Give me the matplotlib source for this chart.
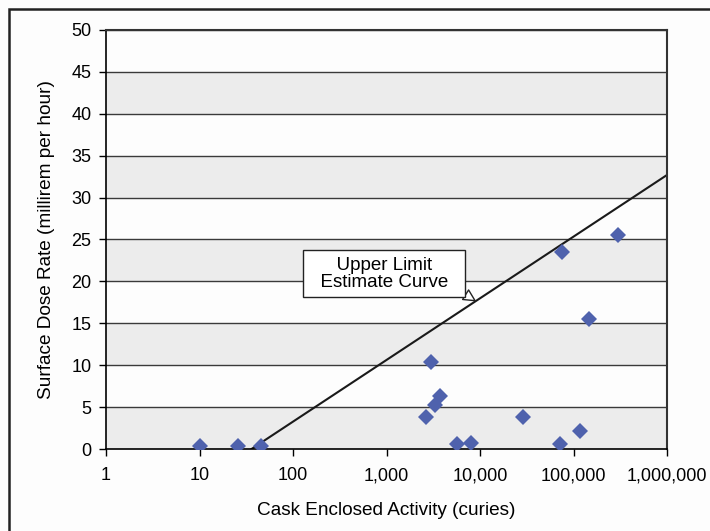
import matplotlib
matplotlib.use("Agg")
import matplotlib.pyplot as plt
from matplotlib.patches import Rectangle

plt.rcParams['font.family'] = ['Liberation Sans', 'DejaVu Sans']

# cask measurements
activity = [10, 26, 45, 2650, 3000, 3300, 3730, 5640, 8000, 29000,
            71800, 74600, 117000, 145000, 301000]
dose = [0.3, 0.3, 0.3, 3.85, 10.4, 5.25, 6.3, 0.55, 0.75, 3.85,
        0.55, 23.5, 2.2, 15.5, 25.5]

# upper limit estimate curve (straight line on log axis)
curve_x = [36, 1e6]
curve_y = [0, 32.7]

x_ticks = [1, 10, 100, 1000, 10000, 100000, 1000000]
x_labels = ['1', '10', '100', '1,000', '10,000', '100,000', '1,000,000']
y_ticks = list(range(0, 55, 5))

fig = plt.figure(figsize=(7.1, 5.31), dpi=100, facecolor='#fdfdfd')
ax = fig.add_axes([106/710, 1-449/531, (667-106)/710, (449-30)/531])
ax.set_facecolor('#fdfdfd')

# outer frame (only left/top visible)
fig.patches.append(Rectangle((9/710, -0.1), 1.2, 1 - 9/531 + 0.1,
                             transform=fig.transFigure, fill=False,
                             ec='#222222', lw=1.8))

# alternating bands
for i in range(0, len(y_ticks) - 1):
    if i % 2 == 0:
        ax.axhspan(y_ticks[i], y_ticks[i+1], color='#ececec', zorder=0, lw=0)
for y in y_ticks[1:]:
    ax.axhline(y, color='#3a3a3a', lw=1.0, zorder=1)

ax.plot(curve_x, curve_y, color='#1a1a1a', lw=1.5, zorder=2)
ax.plot(activity, dose, 'D', color='#4f62ad', markersize=8.5,
        markeredgewidth=0, zorder=3)

ax.set_xscale('log')
ax.set_xlim(1, 1e6)
ax.set_ylim(0, 50)
ax.set_xticks(x_ticks)
ax.set_xticklabels(x_labels)
ax.xaxis.set_minor_locator(matplotlib.ticker.NullLocator())
ax.set_yticks(y_ticks)
ax.tick_params(axis='both', direction='out', length=5, width=1,
               labelsize=13, colors='black')
ax.tick_params(axis='x', pad=8)
ax.tick_params(axis='y', pad=5.5)

for side in ['left', 'bottom']:
    ax.spines[side].set_color('black')
    ax.spines[side].set_linewidth(1.2)
for side in ['top', 'right']:
    ax.spines[side].set_color('#333333')
    ax.spines[side].set_linewidth(1.5)

ax.set_xlabel('Cask Enclosed Activity (curies)', fontsize=13.7, labelpad=13)
ax.set_ylabel('Surface Dose Rate (millirem per hour)', fontsize=13.7,
              labelpad=12)

ax.annotate('  Upper Limit  \n  Estimate Curve  ', xy=(8850, 17.7),
            xytext=(944, 20.9), ha='center', va='center', fontsize=13.5,
            linespacing=1.0,
            bbox=dict(boxstyle='square,pad=0.35', fc='white', ec='#222222',
                      lw=1),
            arrowprops=dict(arrowstyle='wedge,tail_width=0.6,shrink_factor=0.5',
                            fc='white', ec='#222222', lw=1,
                            shrinkA=0, shrinkB=0,
                            relpos=(0.97, 0.1)),
            zorder=4)

fig.savefig('out.png', dpi=100, facecolor=fig.get_facecolor())
